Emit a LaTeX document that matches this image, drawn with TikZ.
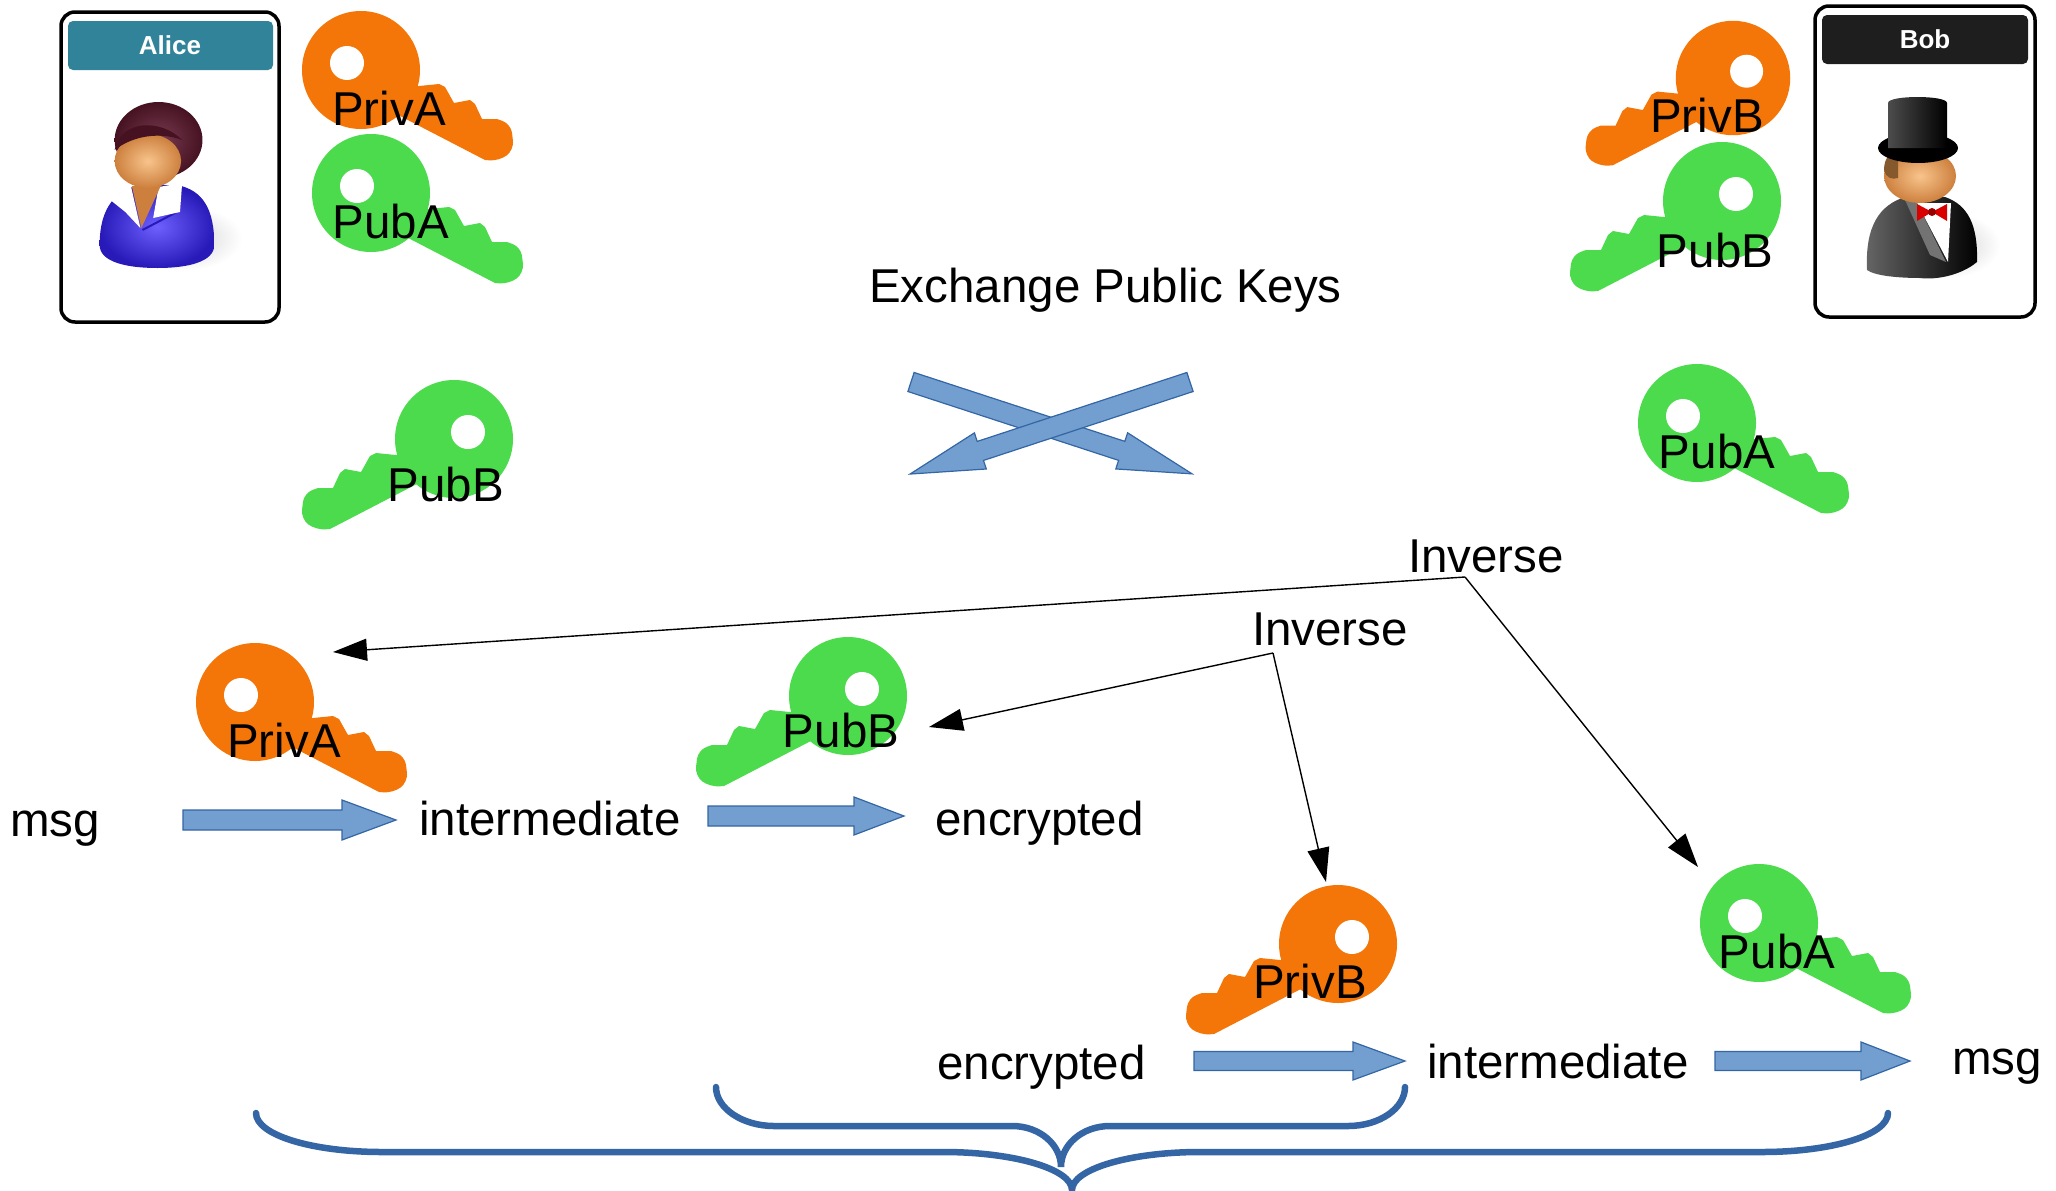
\documentclass[tikz,border=0pt]{standalone}
\usepackage{fontspec}
\setmainfont{Liberation Sans}
\usetikzlibrary{arrows.meta,calc}

\definecolor{keyorange}{RGB}{244,117,8}
\definecolor{keygreen}{RGB}{76,219,76}
\definecolor{arrowfill}{RGB}{114,159,207}
\definecolor{arrowline}{RGB}{52,101,164}
\definecolor{bracecol}{RGB}{52,101,164}
\definecolor{aliceteal}{RGB}{49,131,153}
\definecolor{bobhead}{RGB}{30,30,30}
\definecolor{skinlight}{RGB}{248,196,140}
\definecolor{skindark}{RGB}{205,128,62}
\definecolor{haircol}{RGB}{70,18,34}
\definecolor{hairlight}{RGB}{120,60,80}
\definecolor{suitlight}{RGB}{110,95,255}
\definecolor{suitdark}{RGB}{40,25,185}

\tikzset{
  lbl/.style={font=\fontsize{47.5}{57}\selectfont, inner sep=0pt, anchor=base},
  hdr/.style={font=\bfseries\fontsize{26}{30}\selectfont, text=white, inner sep=0pt},
  card/.style={draw, line width=3.5pt, rounded corners=14pt, inner sep=0pt},
  inv/.style={line width=1.4pt, -{Triangle[length=34pt, width=22pt]}},
  brace/.style={draw=bracecol, line width=6.5pt, line cap=round},
  % key icon: head centred at the origin, shaft running down to the right
  pics/key/.style={code={
    \fill[#1] (0,0) circle[radius=59pt];
    \fill[#1] (0,0) -- (45,17) -- (58,16) -- (78,14) -- (84,17) -- (93,33)
      -- (109,30) -- (114,34) -- (121,49) -- (136,49)
      [rounded corners=9pt] -- (150,54) -- (153,80) -- (138,91)
      [sharp corners] -- (124,90) -- (41,47) -- (14,33) -- cycle;
    \fill[white] (-14,-7) circle[radius=17pt];
  }},
  % block arrow: length / shaft half-width / head half-width / head length
  pics/barrow/.style args={#1/#2/#3/#4}{code={
    \filldraw[fill=arrowfill, draw=arrowline, line width=1.2pt, line join=miter]
      (0,-#2) -- ({#1-#4},-#2) -- ({#1-#4},-#3) -- (#1,0)
      -- ({#1-#4},#3) -- ({#1-#4},#2) -- (0,#2) -- cycle;
  }}
}

\begin{document}
\begin{tikzpicture}[x=1pt,y=-1pt]
\useasboundingbox (0,0) rectangle (2056,1191);

% ---------------- Alice card ----------------
\node[card, minimum width=218pt, minimum height=310pt] (aliceCard) at (170,167) {};
\fill[aliceteal, rounded corners=5pt] (68,21) rectangle (273,70);
\node[hdr] (aliceName) at (170,45) {Alice};
\begin{scope}[xscale=1.0714]
\shade[inner color=black!18, outer color=white] (170,238) ellipse[x radius=56pt, y radius=33pt];
\shade[inner color=suitlight, outer color=suitdark]
  (93,245) .. controls (93,205) and (110,190) .. (130,185) -- (165,185)
  .. controls (190,190) and (200,210) .. (200,245)
  .. controls (200,262) and (175,268) .. (147,268)
  .. controls (118,268) and (93,262) .. (93,245) -- cycle;
\draw[suitdark, line width=2pt] (133,230) -- (165,212);
\fill[white] (103,200) -- (122,185) -- (131,228) -- (117,212) -- cycle;
\fill[white] (148,187) -- (170,183) -- (168,212) -- (143,218) -- cycle;
\fill[skindark] (123,186) -- (150,186) -- (132,228) -- cycle;
\shade[inner color=hairlight, outer color=haircol] (148,140) ellipse[x radius=41pt, y radius=38pt];
\shade[inner color=skinlight, outer color=skindark] (138,161) ellipse[x radius=31pt, y radius=27pt];
\fill[haircol] (107,150) .. controls (112,120) and (150,118) .. (170,140)
  .. controls (150,132) and (125,135) .. (107,150) -- cycle;
\end{scope}

% ---------------- Bob card ----------------
\node[card, minimum width=220pt, minimum height=311pt] (bobCard) at (1925,161.5) {};
\fill[bobhead, rounded corners=5pt] (1822,15) rectangle (2028,64);
\node[hdr] (bobName) at (1925,39) {Bob};
\shade[inner color=black!18, outer color=white] (1948,245) ellipse[x radius=52pt, y radius=33pt];
\shade[left color=black!60, right color=black]
  (1867,270) .. controls (1865,225) and (1880,205) .. (1905,197) -- (1945,197)
  .. controls (1968,205) and (1978,225) .. (1977,262)
  .. controls (1960,276) and (1935,280) .. (1920,278)
  .. controls (1900,278) and (1875,276) .. (1867,270) -- cycle;
\fill[white] (1917,203) -- (1951,203) -- (1948,262) -- cycle;
\fill[black!55] (1905,200) -- (1917,203) -- (1946,262) -- (1930,255) -- cycle;
\fill[red!85!black] (1917,204) -- (1932,212) -- (1917,221) -- cycle;
\fill[red!85!black] (1947,204) -- (1932,212) -- (1947,221) -- cycle;
\fill[red!60!black] (1932,212) circle[radius=4pt];
\shade[inner color=skinlight, outer color=skindark] (1920,176) ellipse[x radius=36pt, y radius=27pt];
\fill[brown!70!black] (1884,170) .. controls (1884,158) and (1890,152) .. (1898,152) -- (1898,178) .. controls (1892,180) and (1886,178) .. (1884,170) -- cycle;
\fill[black] (1918,148) ellipse[x radius=40pt, y radius=15pt];
\shade[left color=black!70, right color=black]
  (1888,148) -- (1888,103) .. controls (1888,95) and (1947,95) .. (1947,103) -- (1947,148) -- cycle;

% ---------------- keys ----------------
\pic (kPrivA1) at (361,70) {key=keyorange};
\pic (kPubA1) at (371,193) {key=keygreen};
\pic[xscale=-0.97, yscale=0.97] (kPrivB1) at (1733,78) {key=keyorange};
\pic[xscale=-1] (kPubB1) at (1722,201) {key=keygreen};
\pic[xscale=-1] (kPubB2) at (454,439) {key=keygreen};
\pic (kPubA2) at (1697,423) {key=keygreen};
\pic (kPrivA2) at (255,702) {key=keyorange};
\pic[xscale=-1] (kPubB3) at (848,696) {key=keygreen};
\pic[xscale=-1] (kPrivB2) at (1338,944) {key=keyorange};
\pic (kPubA3) at (1759,923) {key=keygreen};

\node[lbl] (lPrivA1) at (389,125) {PrivA};
\node[lbl] (lPubA1) at (391,238) {PubA};
\node[lbl] (lPrivB1) at (1707,132) {PrivB};
\node[lbl] (lPubB1) at (1715,267) {PubB};
\node[lbl] (lPubB2) at (446,501) {PubB};
\node[lbl] (lPubA2) at (1717,468) {PubA};
\node[lbl] (lPrivA2) at (284,757) {PrivA};
\node[lbl] (lPubB3) at (841,747) {PubB};
\node[lbl] (lPrivB2) at (1310,998) {PrivB};
\node[lbl] (lPubA3) at (1777,968) {PubA};

% ---------------- key exchange ----------------
\node[lbl, anchor=base west] (xch) at (869,302) {Exchange Public Keys};
\pic[rotate=-18.1] (xA) at (911,382) {barrow=295.7/10/19/74};
\pic[rotate=198.2] (xB) at (1190,382) {barrow=294.7/10/19/74};

% ---------------- encryption chain ----------------
\node[lbl, anchor=base west] (msgA) at (10,836) {msg};
\node[lbl, anchor=base west] (interA) at (419,835) {intermediate};
\node[lbl, anchor=base west] (encA) at (935,835) {encrypted};
\pic (bA1) at (183,820) {barrow=213/10/20/54};
\pic (bA2) at (708,816) {barrow=196/10/19/50};

% ---------------- decryption chain ----------------
\node[lbl, anchor=base west] (encB) at (937,1079) {encrypted};
\node[lbl, anchor=base west] (interB) at (1427,1078) {intermediate};
\node[lbl, anchor=base west] (msgB) at (1952,1074) {msg};
\pic (bB1) at (1194,1061) {barrow=211/9.5/19/52};
\pic (bB2) at (1715,1061) {barrow=195/9.5/19/49};

% ---------------- inverse relations ----------------
\node[lbl, anchor=base west] (inv1) at (1408,572) {Inverse};
\node[lbl, anchor=base west] (inv2) at (1252,645) {Inverse};
\coordinate (j1) at (1465,577);
\coordinate (j2) at (1273,653);
\coordinate (t1a) at (333,652);
\coordinate (t1b) at (1698,867);
\coordinate (t2a) at (929,727);
\coordinate (t2b) at (1326,882);
\draw[inv] (j1) -- (t1a);
\draw[inv] (j1) -- (t1b);
\draw[inv] (j2) -- (t2a);
\draw[inv] (j2) -- (t2b);

% ---------------- braces ----------------
\draw[brace] (256,1113) .. controls (256,1135) and (312,1152) .. (382,1152)
  -- (943,1152) .. controls (1014,1152) and (1072,1169) .. (1072,1190)
  .. controls (1072,1169) and (1130,1152) .. (1200,1152)
  -- (1762,1152) .. controls (1832,1152) and (1888,1135) .. (1888,1113);
\draw[brace] (716,1087) .. controls (716,1108) and (742,1126) .. (774,1126)
  -- (1012,1126) .. controls (1040,1126) and (1061,1145) .. (1061,1167)
  .. controls (1061,1145) and (1082,1126) .. (1110,1126)
  -- (1348,1126) .. controls (1380,1126) and (1405,1108) .. (1405,1087);
\end{tikzpicture}
\end{document}
